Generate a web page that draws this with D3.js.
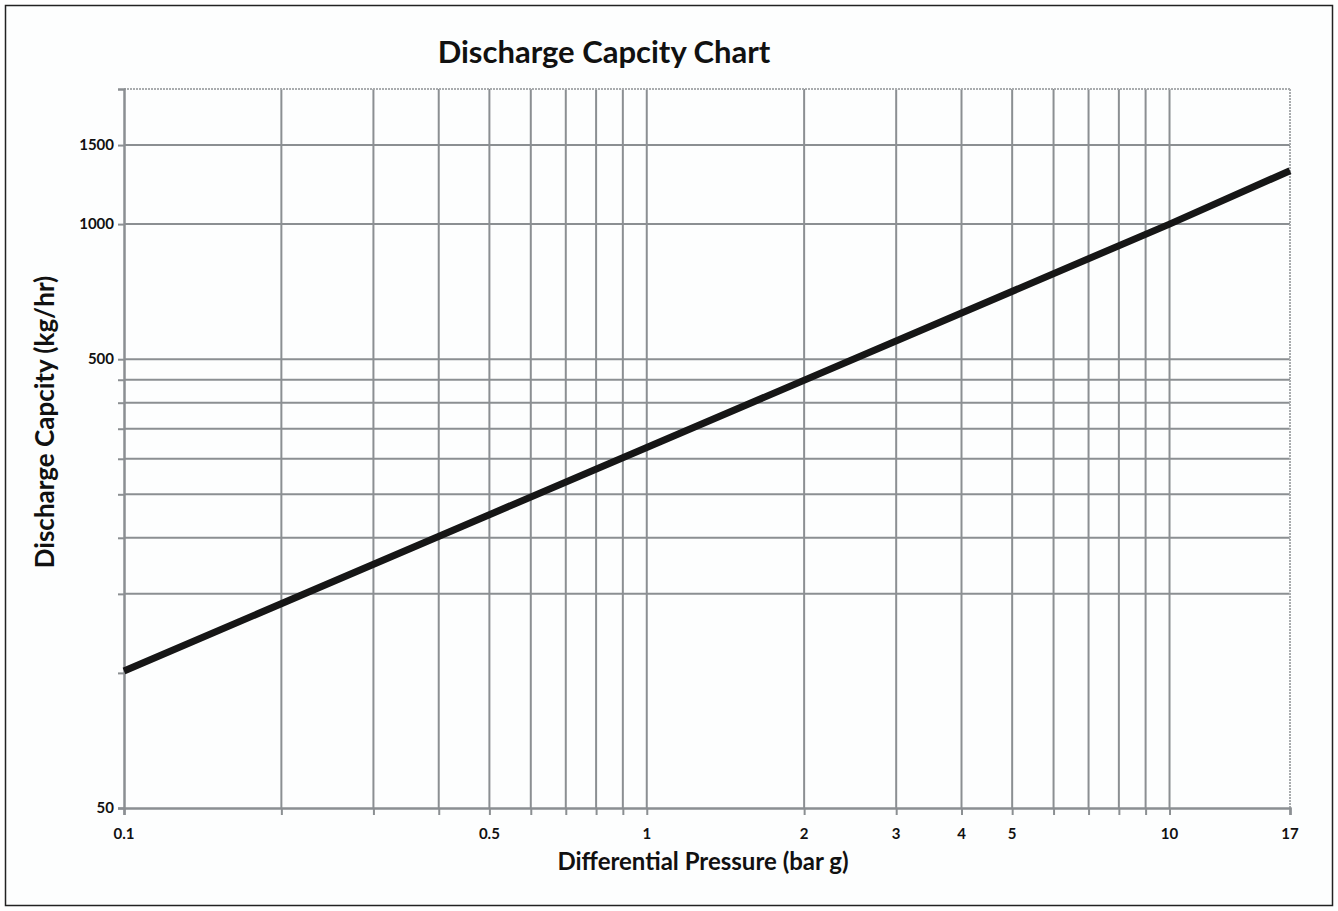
<!DOCTYPE html>
<html>
<head>
<meta charset="utf-8">
<script src="https://cdn.jsdelivr.net/npm/d3@7"></script>
<style>
  body { margin: 0; background: #fff; }
  #viz text { font-family: Lato, "Open Sans", sans-serif; fill: #111; }
</style>
</head>
<body>
<div id="viz"></div>
<script>
// pressure (bar g) vs capacity (kg/hr)
const pressures = [0.1, 1, 10, 17];
const capacities = [101, 318, 1000, 1315];

const xGrid = [0.2, 0.3, 0.4, 0.5, 0.6, 0.7, 0.8, 0.9, 1, 2, 3, 4, 5, 6, 7, 8, 9, 10];
const xTicks = [0.1, 0.2, 0.3, 0.4, 0.5, 0.6, 0.7, 0.8, 0.9, 1, 2, 3, 4, 5, 6, 7, 8, 9, 10, 17];
const xLabels = [0.1, 0.5, 1, 2, 3, 4, 5, 10, 17];
const yGrid = [150, 200, 250, 300, 350, 400, 450, 500, 1000, 1500];
const yTicks = [50, 100, 150, 200, 250, 300, 350, 400, 450, 500, 1000, 1500];
const yLabels = [50, 500, 1000, 1500];

const W = 1338, H = 911;
const plotL = 124, plotR = 1290, plotT = 89, plotB = 808;
const gridColor = '#8b8f92';

const svg = d3.select('#viz').append('svg')
  .attr('width', W)
  .attr('height', H);

// outer frame
svg.append('rect')
  .attr('x', 5.5).attr('y', 5.5)
  .attr('width', W - 11).attr('height', H - 11)
  .attr('fill', '#fdfefe')
  .attr('stroke', '#222')
  .attr('stroke-width', 1.5);

const x = d3.scaleLog().domain([0.1, 17]).range([plotL, plotR]);
const y = d3.scaleLog().domain([50, 2000]).range([plotB, plotT]);

// grid
svg.append('g').selectAll('line').data(xGrid).join('line')
  .attr('x1', d => x(d)).attr('x2', d => x(d))
  .attr('y1', plotT).attr('y2', plotB)
  .attr('stroke', gridColor).attr('stroke-width', 2);

svg.append('g').selectAll('line').data(yGrid).join('line')
  .attr('x1', plotL).attr('x2', plotR)
  .attr('y1', d => y(d)).attr('y2', d => y(d))
  .attr('stroke', gridColor).attr('stroke-width', 2);

// top + right edges, lighter dotted
svg.append('line')
  .attr('x1', plotL).attr('x2', plotR).attr('y1', plotT).attr('y2', plotT)
  .attr('stroke', '#a9acae').attr('stroke-width', 2).attr('stroke-dasharray', '2,1');
svg.append('line')
  .attr('x1', plotR).attr('x2', plotR).attr('y1', plotT).attr('y2', plotB)
  .attr('stroke', '#a9acae').attr('stroke-width', 2).attr('stroke-dasharray', '2,1');

// axes
const xAxis = svg.append('g')
  .attr('transform', `translate(0,${plotB})`)
  .call(d3.axisBottom(x).tickValues(xTicks).tickSize(7).tickFormat(''));
xAxis.select('.domain').attr('stroke', gridColor).attr('stroke-width', 2.5);
xAxis.selectAll('.tick line').attr('stroke', gridColor).attr('stroke-width', 2);

const yAxis = svg.append('g')
  .attr('transform', `translate(${plotL},0)`)
  .call(d3.axisLeft(y).tickValues(yTicks).tickSize(6).tickFormat(''));
yAxis.select('.domain').attr('stroke', gridColor).attr('stroke-width', 2.5);
yAxis.selectAll('.tick line').attr('stroke', gridColor).attr('stroke-width', 2);

// tick labels
svg.append('g').selectAll('text').data(xLabels).join('text')
  .attr('x', d => x(d))
  .attr('y', 839)
  .attr('text-anchor', 'middle')
  .attr('font-size', '15px')
  .attr('font-weight', 'bold')
  .text(d => d);

svg.append('g').selectAll('text').data(yLabels).join('text')
  .attr('x', 114)
  .attr('y', d => y(d) + 5)
  .attr('text-anchor', 'end')
  .attr('font-size', '15px')
  .attr('font-weight', 'bold')
  .text(d => d);

// the curve
svg.append('path')
  .datum(pressures.map((p, i) => [p, capacities[i]]))
  .attr('d', d3.line().x(d => x(d[0])).y(d => y(d[1])))
  .attr('fill', 'none')
  .attr('stroke', '#161616')
  .attr('stroke-width', 7);

// titles
svg.append('text')
  .attr('x', 604).attr('y', 63)
  .attr('text-anchor', 'middle')
  .attr('font-size', '31px')
  .attr('font-weight', 'bold')
  .text('Discharge Capcity Chart');

svg.append('text')
  .attr('x', 703).attr('y', 870)
  .attr('text-anchor', 'middle')
  .attr('font-size', '24px')
  .attr('font-weight', 'bold')
  .text('Differential Pressure (bar g)');

svg.append('text')
  .attr('transform', 'translate(54,422) rotate(-90)')
  .attr('text-anchor', 'middle')
  .attr('font-size', '26px')
  .attr('font-weight', 'bold')
  .text('Discharge Capcity (kg/hr)');
</script>
</body>
</html>
